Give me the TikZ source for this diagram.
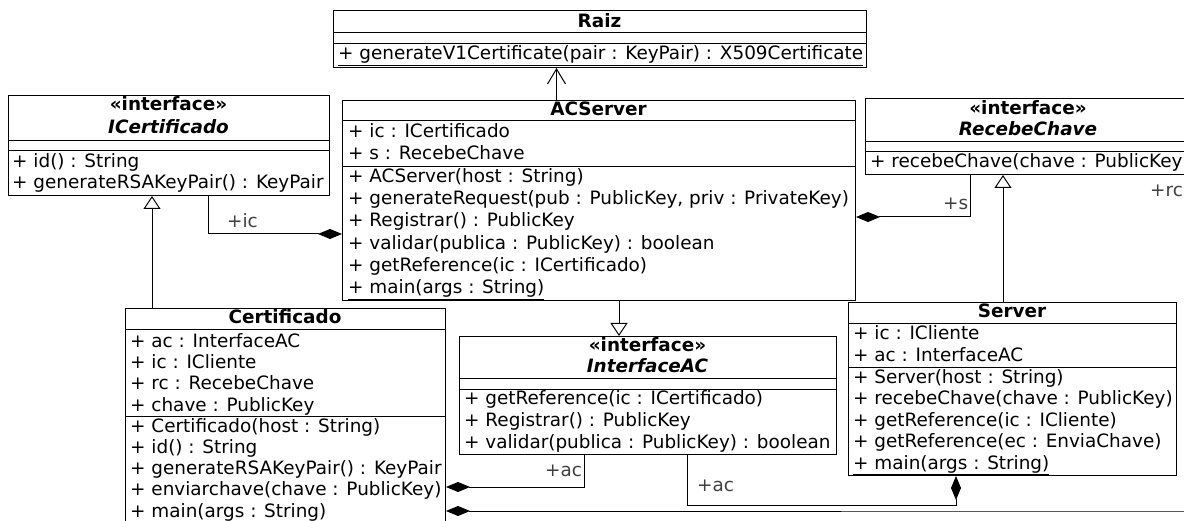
\documentclass[tikz,border=0pt]{standalone}
\usepackage{fontspec}
\setmainfont{DejaVu Sans}
\usepackage{tikz}
\usetikzlibrary{positioning,calc,arrows.meta}

\newcommand{\umlfont}{\fontsize{18.4}{22}\selectfont}

\tikzset{
  classbox/.style={draw, line width=1pt, inner sep=0pt, anchor=north west},
  member/.style={anchor=base west, inner sep=0pt, font=\umlfont},
  classname/.style={anchor=base, inner sep=0pt, font=\umlfont\bfseries},
  rolename/.style={anchor=base west, inner sep=0pt, font=\umlfont, text=black!75},
  divider/.style={line width=1pt},
  assoc/.style={line width=1pt},
  realize/.style={line width=1pt, -{Triangle[open, length=13pt, width=17pt]}},
  navig/.style={line width=1pt, -{Straight Barb[length=15pt, width=18pt]}},
  owner/.style={line width=1pt, {Diamond[length=24pt, width=10pt]}-},
  owned/.style={line width=1pt, -{Diamond[length=24pt, width=10pt]}},
}

\begin{document}
\begin{tikzpicture}[x=1pt, y=-1pt]
    \useasboundingbox (0,0) rectangle (1184,521);
    \clip (0,0) rectangle (1184,521);

    % Raiz
    \node[classbox, minimum width=533pt, minimum height=57pt] (raiz) at (333,10) {};
    \draw[divider] (333,33) -- (866,33);
    \draw[divider] (333,44) -- (866,44);
    \node[classname] (raiz-name) at (599.5,27.5) {Raiz};
    \node[member] (raiz-m0) at (338,60) {\underline{+ generateV1Certificate(pair : KeyPair) : X509Certificate}};

    % ICertificado
    \node[classbox, minimum width=321pt, minimum height=100pt] (icert) at (8,95) {};
    \draw[divider] (8,141) -- (329,141);
    \draw[divider] (8,151) -- (329,151);
    \node[classname] (icert-st) at (168.5,110.7) {«interface»};
    \node[classname, font=\umlfont\bfseries\itshape] (icert-name) at (168.5,134) {ICertificado};
    \foreach \txt [count=\i from 0] in {+ id() : String, + generateRSAKeyPair() : KeyPair}
        \node[member] (icert-m\i) at (12,167.3+21.7*\i) {\txt};

    % ACServer
    \node[classbox, minimum width=513pt, minimum height=200pt] (acserver) at (342,100) {};
    \draw[divider] (342,121) -- (855,121);
    \draw[divider] (342,167) -- (855,167);
    \node[classname] (acserver-name) at (598.5,116) {ACServer};
    \foreach \txt [count=\i from 0] in {+ ic : ICertificado, + s : RecebeChave}
        \node[member] (acserver-a\i) at (348,137.2+22.3*\i) {\txt};
    \foreach \txt [count=\i from 0] in {+ ACServer(host : String),
        {+ generateRequest(pub : PublicKey, priv : PrivateKey)},
        + Registrar() : PublicKey, + validar(publica : PublicKey) : boolean,
        + getReference(ic : ICertificado), {\underline{+ main(args : String)}}}
        \node[member] (acserver-m\i) at (348,182.2+22.3*\i) {\txt};

    % RecebeChave
    \node[classbox, minimum width=326pt, minimum height=76pt] (recebe) at (865,98) {};
    \draw[divider] (865,142) -- (1191,142);
    \draw[divider] (865,152) -- (1191,152);
    \node[classname] (recebe-st) at (1028,115) {«interface»};
    \node[classname, font=\umlfont\bfseries\itshape] (recebe-name) at (1028,136) {RecebeChave};
    \node[member] (recebe-m0) at (870,168) {+ recebeChave(chave : PublicKey)};

    % Certificado
    \node[classbox, minimum width=320pt, minimum height=240pt] (certificado) at (125,308) {};
    \draw[divider] (125,330) -- (445,330);
    \draw[divider] (125,416) -- (445,416);
    \node[classname] (certificado-name) at (285,323.3) {Certificado};
    \foreach \txt [count=\i from 0] in {+ ac : InterfaceAC, + ic : ICliente,
        + rc : RecebeChave, + chave : PublicKey}
        \node[member] (certificado-a\i) at (130,347.3+21.3*\i) {\txt};
    \foreach \txt [count=\i from 0] in {+ Certificado(host : String), + id() : String,
        + generateRSAKeyPair() : KeyPair, + enviarchave(chave : PublicKey),
        {\underline{+ main(args : String)}}}
        \node[member] (certificado-m\i) at (130,432+21.3*\i) {\txt};

    % InterfaceAC
    \node[classbox, minimum width=377pt, minimum height=118pt] (iac) at (459,336) {};
    \draw[divider] (459,379) -- (836,379);
    \draw[divider] (459,389.3) -- (836,389.3);
    \node[classname] (iac-st) at (647.5,351.7) {«interface»};
    \node[classname, font=\umlfont\bfseries\itshape] (iac-name) at (647.5,372.3) {InterfaceAC};
    \foreach \txt [count=\i from 0] in {+ getReference(ic : ICertificado),
        + Registrar() : PublicKey, + validar(publica : PublicKey) : boolean}
        \node[member] (iac-m\i) at (464,405+21.7*\i) {\txt};

    % Server
    \node[classbox, minimum width=328pt, minimum height=173pt] (server) at (848,302) {};
    \draw[divider] (848,323.3) -- (1176,323.3);
    \draw[divider] (848,367.3) -- (1176,367.3);
    \node[classname] (server-name) at (1012,317.3) {Server};
    \foreach \txt [count=\i from 0] in {+ ic : ICliente, + ac : InterfaceAC}
        \node[member] (server-a\i) at (853,340+21.5*\i) {\txt};
    \foreach \txt [count=\i from 0] in {+ Server(host : String),
        + recebeChave(chave : PublicKey), + getReference(ic : ICliente),
        + getReference(ec : EnviaChave), {\underline{+ main(args : String)}}}
        \node[member] (server-m\i) at (853,383.3+21.5*\i) {\txt};

    % Generalizations
    \draw[realize] ([xshift=27pt]certificado.north west) coordinate (cert-up) -- (cert-up |- icert.south);
    \draw[realize] ([xshift=277pt]acserver.south west) coordinate (acs-down) -- (acs-down |- iac.north);
    \draw[realize] ([xshift=155pt]server.north west) coordinate (srv-up) -- (srv-up |- recebe.south);

    % Navigable association
    \draw[navig] ([xshift=214.5pt]acserver.north west) coordinate (acs-up) -- (acs-up |- raiz.south);

    % Compositions
    \draw[owned] ([xshift=200pt]icert.south west) |- ([yshift=-134pt]acserver.north west);
    \node[rolename] (role-ic) at (227,228) {+ic};
    \draw[owned] ([xshift=105pt]recebe.south west) |- ([yshift=-117pt]acserver.north east);
    \node[rolename] (role-s) at (943,210) {+s};
    \draw[owned] ([xshift=125pt]iac.south west) |- ([yshift=-179pt]certificado.north east);
    \node[rolename] (role-ac1) at (545,476.7) {+ac};
    \draw[owner] ([xshift=108pt]server.south west) -- ++(0,29.5) -| ([xshift=228pt]iac.south west);
    \node[rolename] (role-ac2) at (697,491.7) {+ac};
    \draw[owner] ([yshift=-203pt]certificado.north east) -- ++(760,0) -| ([xshift=323pt]recebe.south west);
    \node[rolename] (role-rc) at (1150,197) {+rc};
\end{tikzpicture}
\end{document}
